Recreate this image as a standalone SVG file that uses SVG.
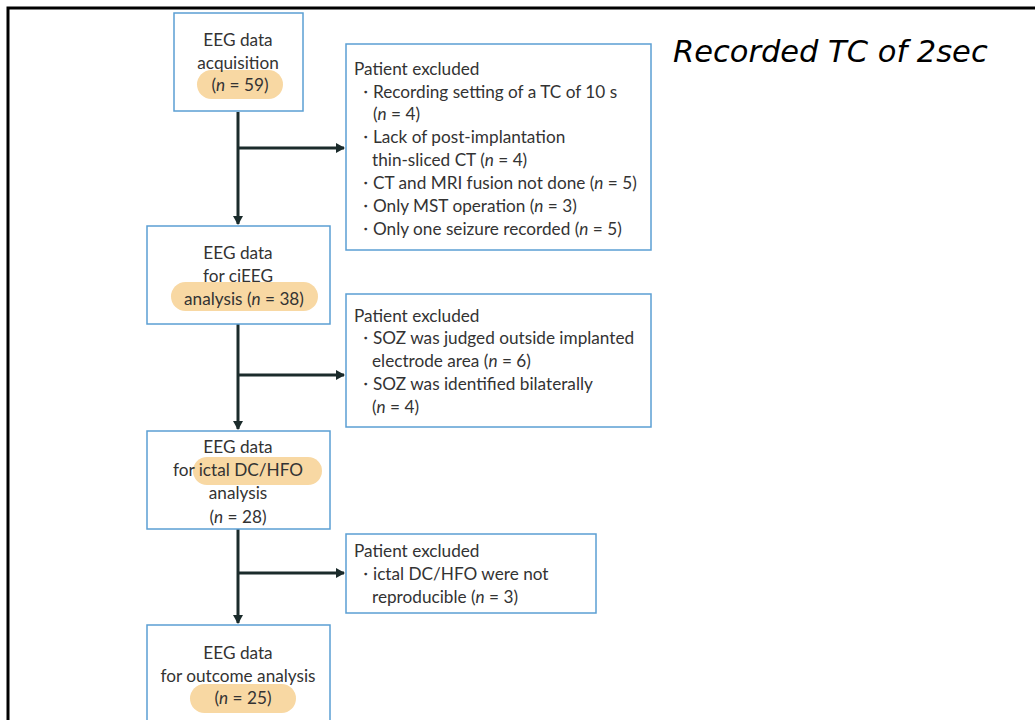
<svg xmlns="http://www.w3.org/2000/svg" width="1035" height="720" viewBox="0 0 1035 720">
<defs>
<style>
.t{font-family:Lato,"Liberation Sans",sans-serif;font-size:17.2px;fill:#333}
.c{text-anchor:middle}
.i{font-style:italic}
.box{fill:#fff;stroke:#5b9fd3;stroke-width:1.5}
.pill{fill:#f8d8a3}
.ln{stroke:#1b2b2b;stroke-width:3;fill:none}
</style>
<marker id="ah" markerWidth="10" markerHeight="10" refX="8" refY="5" orient="auto" markerUnits="userSpaceOnUse">
<path d="M0,0 L9,5 L0,10 Z" fill="#1b2b2b"/>
</marker>
</defs>
<rect width="1035" height="720" fill="#fff"/>
<path d="M8,730 V8 H1045" fill="none" stroke="#000" stroke-width="3"/>
<text x="673" y="62" font-family="'DejaVu Sans',sans-serif" font-style="italic" font-size="30.5" fill="#000">Recorded TC of 2sec</text>

<g id="connectors">
<path class="ln" d="M238,112 V224" marker-end="url(#ah)"/>
<path class="ln" d="M238,148 H344" marker-end="url(#ah)"/>
<path class="ln" d="M238,324 V429" marker-end="url(#ah)"/>
<path class="ln" d="M238,375 H344" marker-end="url(#ah)"/>
<path class="ln" d="M238,529 V623" marker-end="url(#ah)"/>
<path class="ln" d="M238,573 H344" marker-end="url(#ah)"/>
</g>

<g id="n1">
<rect class="box" x="174" y="13" width="129" height="98"/>
<rect class="pill" x="197" y="70" width="86" height="29" rx="14.5"/>
<text class="t c" x="238" y="46">EEG data</text>
<text class="t c" x="238" y="69">acquisition</text>
<text class="t c" x="240" y="91">(<tspan class="i">n</tspan> = 59)</text>
</g>

<g id="x1">
<rect class="box" x="346" y="44" width="305" height="206"/>
<text class="t" x="354" y="75">Patient excluded</text>
<text class="t" x="357" y="98">・</text><text class="t" x="373" y="98">Recording setting of a TC of 10 s</text>
<text class="t" x="373" y="120">(<tspan class="i">n</tspan> = 4)</text>
<text class="t" x="357" y="143">・</text><text class="t" x="373" y="143">Lack of post-implantation</text>
<text class="t" x="372" y="166">thin-sliced CT (<tspan class="i">n</tspan> = 4)</text>
<text class="t" x="357" y="189">・</text><text class="t" x="373" y="189">CT and MRI fusion not done (<tspan class="i">n</tspan> = 5)</text>
<text class="t" x="357" y="212">・</text><text class="t" x="373" y="212">Only MST operation (<tspan class="i">n</tspan> = 3)</text>
<text class="t" x="357" y="235">・</text><text class="t" x="373" y="235">Only one seizure recorded (<tspan class="i">n</tspan> = 5)</text>
</g>

<g id="n2">
<rect class="box" x="147" y="226" width="183" height="98"/>
<rect class="pill" x="171" y="282" width="147" height="29" rx="14.5"/>
<text class="t c" x="238" y="259">EEG data</text>
<text class="t c" x="238" y="282">for ciEEG</text>
<text class="t c" x="244" y="305">analysis (<tspan class="i">n</tspan> = 38)</text>
</g>

<g id="x2">
<rect class="box" x="346" y="294" width="305" height="133"/>
<text class="t" x="354" y="322">Patient excluded</text>
<text class="t" x="357" y="344">・</text><text class="t" x="373" y="344">SOZ was judged outside implanted</text>
<text class="t" x="372" y="367">electrode area (<tspan class="i">n</tspan> = 6)</text>
<text class="t" x="357" y="390">・</text><text class="t" x="373" y="390">SOZ was identified bilaterally</text>
<text class="t" x="372" y="413">(<tspan class="i">n</tspan> = 4)</text>
</g>

<g id="n3">
<rect class="box" x="147" y="431" width="183" height="98"/>
<rect class="pill" x="193" y="457" width="129" height="28" rx="14"/>
<text class="t c" x="238" y="453">EEG data</text>
<text class="t c" x="238" y="476">for ictal DC/HFO</text>
<text class="t c" x="238" y="499">analysis</text>
<text class="t c" x="238" y="523">(<tspan class="i">n</tspan> = 28)</text>
</g>

<g id="x3">
<rect class="box" x="346" y="534" width="250" height="79"/>
<text class="t" x="354" y="557">Patient excluded</text>
<text class="t" x="357" y="580">・</text><text class="t" x="373" y="580">ictal DC/HFO were not</text>
<text class="t" x="372" y="603">reproducible (<tspan class="i">n</tspan> = 3)</text>
</g>

<g id="n4">
<rect class="box" x="147" y="625" width="183" height="110"/>
<rect class="pill" x="190" y="684" width="106" height="29" rx="14.5"/>
<text class="t c" x="238" y="659">EEG data</text>
<text class="t c" x="238" y="682">for outcome analysis</text>
<text class="t c" x="243" y="704">(<tspan class="i">n</tspan> = 25)</text>
</g>
</svg>
